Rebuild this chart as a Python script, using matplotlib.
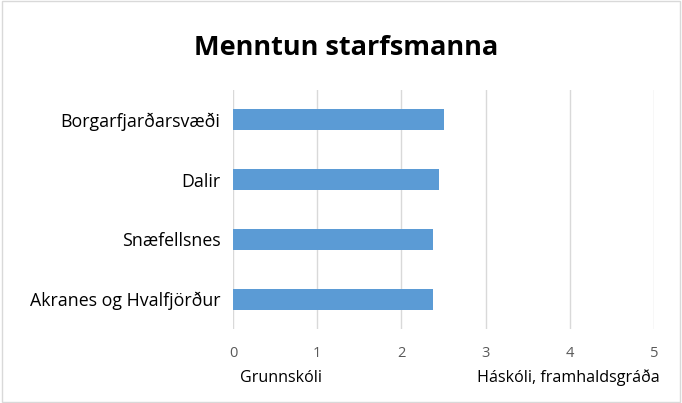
import matplotlib
matplotlib.use("Agg")
import matplotlib.pyplot as plt
from matplotlib.patches import Rectangle

plt.rcParams['font.family'] = ['Open Sans', 'DejaVu Sans']

categories = ["Akranes og Hvalfjörður", "Snæfellsnes", "Dalir", "Borgarfjarðarsvæði"]
values = [2.37, 2.38, 2.45, 2.50]
ticks = [0, 1, 2, 3, 4, 5]
low_label = "Grunnskóli"
high_label = "Háskóli, framhaldsgráða"

fig = plt.figure(figsize=(6.82, 4.03), dpi=100)
ax = fig.add_axes([0.3416, 0.1836, 0.6174, 0.5931])

ax.barh(range(len(categories)), values, height=0.35, color="#5b9bd5", zorder=3)
ax.set_xlim(0, 5)
ax.set_ylim(-0.5, len(categories) - 0.5)
ax.set_xticks(ticks)
ax.set_xticklabels([str(t) for t in ticks], color="#595959", fontsize=10.5)
ax.set_yticks(range(len(categories)))
ax.set_yticklabels(categories, fontsize=12.8, color="black")
ax.tick_params(length=0, pad=9)
ax.tick_params(axis='x', pad=12)
ax.grid(axis='x', color="#d9d9d9", linewidth=1, zorder=0)
for s in ax.spines.values():
    s.set_visible(False)

fig.text(346 / 682, 1 - 48 / 403, "Menntun starfsmanna", ha="center", va="center",
         fontsize=19.5, fontweight="bold")
fig.text(281 / 682, 1 - 378 / 403, low_label, ha="center", va="center",
         fontsize=11.6, color="black")
fig.text(568 / 682, 1 - 378 / 403, high_label, ha="center", va="center",
         fontsize=11.6, color="black")

fig.patches.append(Rectangle((0.003, 0.003), 0.994, 0.994, transform=fig.transFigure,
                             fill=False, edgecolor="#d9d9d9", linewidth=1))

fig.savefig("out.png", dpi=100)
